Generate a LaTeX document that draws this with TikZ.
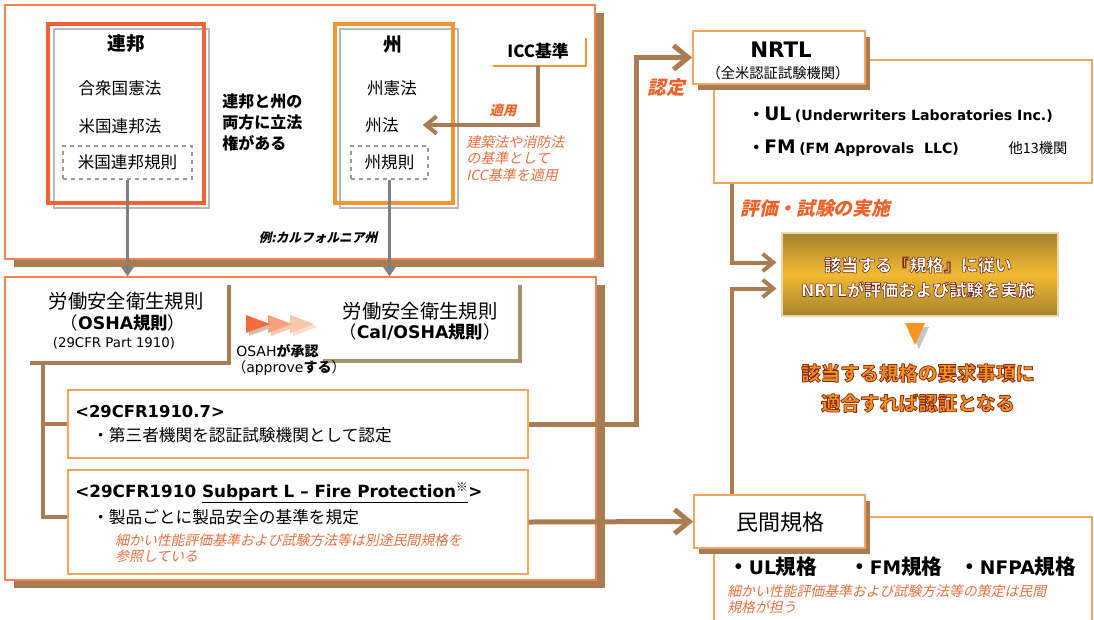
\documentclass[tikz,border=0pt]{standalone}
\usepackage{fontspec}
\setmainfont{Noto Sans CJK JP}
\newfontfamily\jp{Noto Sans CJK JP}
\newfontfamily\vd{DejaVu Sans}
\newfontfamily\jpsl[FakeSlant=0.22]{Noto Sans CJK JP}
\usetikzlibrary{arrows.meta,shadows,fit,calc}
\newcommand\fsz[2]{\fontsize{#1}{#2}\selectfont}
% outlined text: #1 = stroke colour as "r g b", #2 = line width, #3 = text
\newcommand\outl[3]{\special{pdf:literal direct #1 RG #2 w 1 j 2 Tr}#3\special{pdf:literal direct 0 Tr}}
\definecolor{brn}{RGB}{170,124,82}
\definecolor{pnl}{RGB}{242,130,80}
\definecolor{fedor}{RGB}{240,98,50}
\definecolor{stor}{RGB}{247,148,50}
\definecolor{lor}{RGB}{248,165,95}
\definecolor{itor}{RGB}{232,112,64}
\definecolor{hdor}{RGB}{240,96,40}
\definecolor{gframe}{RGB}{185,185,185}
\definecolor{gry}{RGB}{128,128,128}
\definecolor{olv}{RGB}{165,148,105}
\definecolor{gldD}{RGB}{165,130,45}
\definecolor{gldL}{RGB}{242,186,50}
\definecolor{gldB}{RGB}{235,215,170}
\definecolor{bigor}{RGB}{247,150,30}
\definecolor{dkred}{RGB}{130,40,20}
\definecolor{ch1}{RGB}{242,107,58}
\definecolor{ch2}{RGB}{245,160,122}
\definecolor{ch3}{RGB}{249,200,172}
\begin{document}
\begin{tikzpicture}[x=0.75pt,y=-0.75pt,
  panel/.style={draw=pnl, line width=0.9pt, fill=white, inner sep=0pt,
    drop shadow={fill=brn, opacity=1, shadow xshift=6.5pt, shadow yshift=-6pt}},
  obox/.style={draw=lor, line width=1pt, fill=white, inner sep=0pt},
  tbox/.style={draw=lor, line width=1.3pt, fill=white, inner sep=0pt,
    drop shadow={fill=brn, opacity=1, shadow xshift=3.75pt, shadow yshift=-4.5pt}},
  dbox/.style={draw=gray!80, dashed, line width=0.8pt, inner sep=0pt},
  conn/.style={draw=brn, line width=3.75pt, -{Straight Barb[length=11pt,width=18pt]}},
  sconn/.style={draw=brn, line width=3pt, -{Straight Barb[length=8pt,width=13pt]}},
  garrow/.style={draw=gry, line width=2.5pt, -{Triangle[length=7pt,width=9pt]}},
  bline/.style={draw=brn, line width=3pt},
  txt/.style={inner sep=0pt, font=\fsz{12.4}{14}},
  ittxt/.style={inner sep=0pt, text=itor, font=\jpsl\fsz{10.4}{12}, align=left, anchor=north west},
  hdtxt/.style={inner sep=0pt, text=hdor, font=\jpsl\bfseries\fsz{14}{14}},
  goldtxt/.style={inner sep=0pt, font=\bfseries\fsz{12.8}{18.8}, text=white, align=center},
  bigtxt/.style={inner sep=0pt, font=\bfseries\fsz{14.6}{22.5}, text=bigor, align=center}
]
\useasboundingbox (0,0) rectangle (1094,619);

% ---------- top panel ----------
\node[panel, fit={(5,5)(595,259)}] (toppanel) {};
\draw[gframe, line width=2.2pt] (54,29) rectangle (209,208);
\node[draw=fedor, line width=2.4pt, inner sep=0pt, fit={(48,24)(204,203)}] (fed) {};
\node[txt, font=\fsz{14}{14}\bfseries] (fedT) at (126,44) {連邦};
\node[txt] (fed1) at (120,88) {合衆国憲法};
\node[txt] (fed2) at (120,126) {米国連邦法};
\node[dbox, fit={(63,146)(192,179)}] (fed3b) {};
\node[txt] (fed3) at (fed3b.center) {米国連邦規則};

\node[txt, font=\fsz{12}{15.5}\bfseries, align=left, anchor=north west] (both) at (222,94) {連邦と州の\\両方に立法\\権がある};

\draw[gframe, line width=2.2pt] (340,29) rectangle (458,208);
\node[draw=stor, line width=2.4pt, inner sep=0pt, fit={(335,24)(453,203)}] (st) {};
\node[txt, font=\fsz{14}{14}\bfseries] (stT) at (393,45) {州};
\node[txt] (st1) at (392,88) {州憲法};
\node[txt] (st2) at (382,125) {州法};
\node[dbox, fit={(351,146)(428,179)}] (st3b) {};
\node[txt] (st3) at (st3b.center) {州規則};

\node[txt, font=\fsz{12.6}{12.6}\bfseries] (icc) at (538,51) {ICC基準};
\coordinate (iccL) at (493,66);
\coordinate (iccB) at (538,66);
\coordinate (iccR) at (586,38);
\draw[stor, line width=1.5pt] (iccL) -| (iccR);
\draw[sconn] (iccB) |- ($(st2.east)+(24,0)$);
\node[hdtxt, font=\jpsl\bfseries\fsz{10}{10}] (tekiyo) at (503,110) {適用};
\node[ittxt, font=\jpsl\fsz{10.5}{12.4}] (kenchiku) at (466,135) {建築法や消防法\\の基準として\\ICC基準を適用};
\node[txt, font=\jpsl\bfseries\fsz{9.5}{9.5}] (rei) at (318,238) {例:カルフォルニア州};

% ---------- bottom panel ----------
\node[panel, fit={(5,277)(596,580)}] (botpanel) {};
\draw[garrow] (fed3b.south) -- (fed3b.south |- botpanel.north);
\draw[garrow] (st3b.south) -- (st3b.south |- botpanel.north);

\node[txt, font=\fsz{14.5}{14.5}] (osha1) at (126,301) {労働安全衛生規則};
\node[txt, font=\fsz{13}{13}] (osha2) at (123,323) {（{\vd\bfseries OSHA}\textbf{規則}）};
\node[txt, font=\vd\fsz{10}{10}] (osha3) at (114,343) {(29CFR Part 1910)};
\coordinate (oshaTR) at (229,285);
\coordinate (oshaBL) at (30,363);
\draw[bline] (oshaTR) |- (oshaBL);

\node[txt, font=\fsz{14.5}{14.5}] (cal1) at (420,311) {労働安全衛生規則};
\node[txt, font=\fsz{13}{13}] (cal2) at (420,332) {（{\vd\bfseries Cal/OSHA}\textbf{規則}）};
\coordinate (calTR) at (520,285);
\coordinate (calBL) at (323,361);
\draw[olv, line width=3pt] (calTR) |- (calBL);

% chevrons
\fill[ch3!60] (293,318) -- (317,327) -- (293,336) -- cycle;
\fill[ch3] (290,315) -- (314,324) -- (290,333) -- cycle;
\fill[ch2!60] (271,318) -- (295,327) -- (271,336) -- cycle;
\fill[ch2] (268,315) -- (292,324) -- (268,333) -- cycle;
\fill[brn!50] (249,318) -- (273,327) -- (249,336) -- cycle;
\fill[ch1] (246,315) -- (270,324) -- (246,333) -- cycle;
\node[txt, anchor=west, font=\fsz{10.5}{10.5}] (osah1) at (236,351) {{\vd OSAH}\textbf{が承認}};
\node[txt, anchor=west, font=\fsz{10.5}{10.5}] (osah2) at (232,368) {（{\vd approve}\textbf{する}）};

\node[obox, fit={(68,390)(528,458)}] (cfr7) {};
\node[txt, anchor=west, font=\vd\bfseries\fsz{12.3}{12.3}] (cfr7a) at (75,412) {<29CFR1910.7>};
\node[txt, anchor=west, font=\fsz{12.5}{12.5}] (cfr7b) at (92,435) {・第三者機関を認証試験機関として認定};

\node[obox, fit={(68,470)(528,574)}] (fire) {};
\node[txt, anchor=west, font=\vd\bfseries\fsz{12.6}{12.6}] (firea) at (75,493) {<29CFR1910 \underline{Subpart L – Fire Protection\textsuperscript{\jp ※}}>};
\node[txt, anchor=west, font=\fsz{12.5}{12.5}] (fireb) at (92,517) {・製品ごとに製品安全の基準を規定};
\node[ittxt, font=\jpsl\fsz{10.4}{12}] (firec) at (115,533) {細かい性能評価基準および試験方法等は別途民間規格を\\参照している};

\coordinate (treeTop) at (43,363);
\draw[bline] (treeTop) |- (cfr7.west);
\draw[bline] (treeTop) |- ($(fire.west)+(0,-5)$);

% ---------- NRTL ----------
\node[obox, fit={(714,60)(1092,183)}] (nrtlD) {};
\node[tbox, fit={(693,31)(865,84)}] (nrtl) {};
\node[txt, font=\vd\bfseries\fsz{16}{16}] (nrtlT) at (781,50) {NRTL};
\node[txt, font=\fsz{10.7}{10.7}] (nrtlS) at (778,73) {（全米認証試験機関）};
\node[txt, anchor=west, font=\fsz{12}{12}\bfseries] (ul) at (748,115) {・{\vd\fsz{14}{14}UL} {\vd\fsz{10.6}{10.6}(Underwriters Laboratories Inc.)}};
\node[txt, anchor=west, font=\fsz{12}{12}\bfseries] (fm) at (748,148) {・{\vd\fsz{14}{14}FM} {\vd\fsz{10.6}{10.6}(FM Approvals\ \ LLC)}};
\node[txt, font=\fsz{10.7}{10.7}] (ta) at (1038,148) {他13機関};
\node[hdtxt] (nintei) at (666,87) {認定};
\node[hdtxt] (hyoka) at (815,208) {評価・試験の実施};

% gold box
\node[fit={(782,233)(1058,316)}, inner sep=0pt, top color=gldD, bottom color=gldD, middle color=gldL, draw=gldB, line width=0.8pt] (gold) {};
\node[goldtxt] (goldT) at (918,277.5) {\outl{0.45 0.14 0.06}{0.4}{該当する『規格』に従い}\\\outl{0.45 0.14 0.06}{0.4}{NRTLが評価および試験を実施}};

\fill[gray!45] (909,327) -- (929,327) -- (919,349) -- cycle;
\fill[bigor] (905,323) -- (925,323) -- (915,345) -- cycle;

\node[bigtxt] (bigT) at (918,388) {\outl{0.55 0.16 0.06}{0.6}{該当する規格の要求事項に}\\\outl{0.55 0.16 0.06}{0.6}{適合すれば認証となる}};

% ---------- 民間規格 ----------
\node[obox, fit={(714,517)(1092,640)}] (minD) {};
\node[tbox, fit={(694,495)(865,548)}] (minkan) {};
\node[txt, font=\fsz{16.5}{16.5}] (minkanT) at (780,522) {民間規格};
\node[txt, anchor=west, font=\fsz{15.5}{15.5}\bfseries] (k1) at (728,567) {・{\vd\fsz{14}{14}UL}規格};
\node[txt, anchor=west, font=\fsz{15.5}{15.5}\bfseries] (k2) at (849,567) {・{\vd\fsz{14}{14}FM}規格};
\node[txt, anchor=west, font=\fsz{15.5}{15.5}\bfseries] (k3) at (959,567) {・{\vd\fsz{14}{14}NFPA}規格};
\node[ittxt] (minc) at (727,584) {細かい性能評価基準および試験方法等の策定は民間\\規格が担う};

% ---------- connectors ----------
\draw[conn] (cfr7.east) -- ++(108,0) |- (nrtl.west);
\draw[conn] (fire.east) -- (minkan.west);
\draw[sconn] ($(nrtlD.south west)+(19,0)$) |- ($(gold.west)+(-5,-12)$);
\draw[sconn] ($(minkan.north west)+(39,0)$) |- ($(gold.west)+(-5,14)$);
\end{tikzpicture}
\end{document}
